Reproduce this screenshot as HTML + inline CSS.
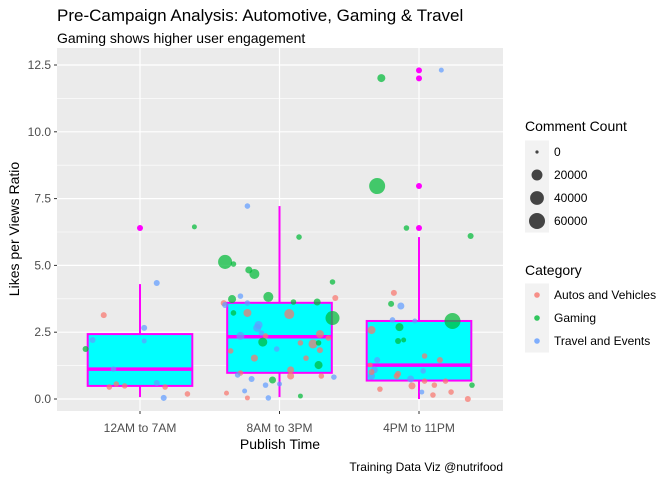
<!DOCTYPE html>
<html><head><meta charset="utf-8"><style>
body{margin:0;background:#fff;}
svg text{font-family:"Liberation Sans",sans-serif;}
</style></head><body>
<svg id="c" width="672" height="480" xmlns="http://www.w3.org/2000/svg">
<text x="57" y="21" font-size="17" fill="#000">Pre-Campaign Analysis: Automotive, Gaming &amp; Travel</text>
<text x="57" y="43" font-size="14" fill="#000">Gaming shows higher user engagement</text>
<rect x="57" y="48" width="446" height="363" fill="#EBEBEB"/>
<g id="grid"></g><g id="boxes"></g><g id="pts"></g><g id="axes"></g>
<text x="280" y="449" font-size="14" text-anchor="middle">Publish Time</text>
<text transform="translate(19,229) rotate(-90)" font-size="14" text-anchor="middle">Likes per Views Ratio</text>
<text x="503" y="471" font-size="12" text-anchor="end">Training Data Viz @nutrifood</text>
<g>
<text x="525" y="131" font-size="14">Comment Count</text>
<g id="sizeleg"></g></g>
<g>
<text x="525" y="275" font-size="14">Category</text>
<g id="catleg"></g></g>
</svg>
<script>
const categories=["12AM to 7AM","8AM to 3PM","4PM to 11PM"];
const yTicks=[0,2.5,5,7.5,10,12.5];
const yTickLabels=["0.0","2.5","5.0","7.5","10.0","12.5"];
const boxQ1=[0.49,0.98,0.69];
const boxMed=[1.12,2.33,1.27];
const boxQ3=[2.43,3.6,2.92];
const whiskLo=[0.07,0.07,0.0];
const whiskHi=[4.3,7.22,6.06];
const outGroup=[0,2,2,2,2];
const outVal=[6.4,12.3,12.0,7.97,6.4];
const ptGroup=[0,0,0,0,0,0,0,0,0,0,0,0,0,0,0,
1,1,1,1,1,1,1,1,1,1,1,1,1,1,1,1,1,1,1,1,1,1,1,1,1,1,1,1,1,1,1,1,1,1,1,1,1,1,1,1,1,1,1,1,1,1,1,1,1,1,1,1,
2,2,2,2,2,2,2,2,2,2,2,2,2,2,2,2,2,2,2,2,2,2,2,2,2,2,2,2,2,2,2,2,2,2,2,2];
const ptJitter=[.39,.12,-.26,.03,-.34,.03,-.39,-.19,.12,-.22,-.17,-.11,.18,.34,.17,
-.23,.14,-.39,-.33,-.22,-.18,.38,-.08,.40,-.34,-.28,-.40,-.39,-.23,.10,.27,-.33,-.23,.07,.38,-.15,-.16,-.13,-.28,-.10,.29,.35,-.12,.15,.24,.28,-.02,-.35,.29,-.18,.19,.28,.08,.08,-.28,-.30,.30,.39,-.20,-.05,-.10,0,-.38,-.25,-.23,-.08,.15,
.16,-.27,-.30,-.09,.37,-.18,-.20,-.13,-.19,-.03,.24,-.14,-.34,-.15,-.11,.04,.15,-.30,-.35,-.32,-.34,-.34,-.15,-.16,.03,-.06,-.05,.04,.11,.19,.38,-.28,.02,.10,.23,.35];
const ptRatio=[6.44,4.34,3.14,2.66,2.21,2.17,1.87,1.12,0.60,0.45,0.56,0.49,0.45,0.19,0.04,
7.22,6.06,5.13,5.05,4.83,4.68,4.38,3.82,3.78,3.74,3.85,3.59,3.52,3.59,3.63,3.63,3.22,3.22,3.18,3.03,2.77,2.66,2.47,2.36,2.36,2.43,2.28,2.13,2.10,2.06,2.10,1.87,1.80,1.83,1.53,1.53,1.27,1.09,0.86,0.97,0.90,0.86,0.82,0.75,0.71,0.52,0.56,0.22,0.30,0.04,0.04,0.11,
12.31,12.01,7.97,6.40,6.10,3.97,3.56,3.48,2.96,2.92,2.92,2.69,2.58,2.17,2.21,1.61,1.46,1.46,1.27,1.09,0.86,1.01,0.94,0.86,1.05,0.75,0.49,0.67,0.52,0.67,0.52,0.37,0.26,0.15,0.26,0.0];
const ptCat=["G","T","A","T","T","T","G","T","T","A","A","A","A","A","T",
"T","G","G","G","G","G","G","G","A","G","T","A","T","T","G","G","G","A","A","G","T","T","T","T","A","A","A","G","A","A","G","T","A","A","A","A","G","A","A","A","T","A","T","T","G","T","T","A","T","A","T","G",
"T","G","G","G","G","A","G","T","T","T","G","G","A","G","G","A","A","T","A","T","T","A","A","A","T","T","A","A","A","A","G","A","T","A","A","A"];
const ptComments=[400,1700,1700,1700,1700,400,1700,1000,1700,1000,1000,1000,1000,1000,1700,
1000,1000,42000,1000,3750,15000,1000,15000,1700,6700,1000,1700,1700,1000,1000,3750,1000,6700,15000,42000,6700,6700,1000,6700,1000,6700,1000,10400,1000,10400,1000,1000,1000,1700,3750,1000,6700,3750,3750,1000,1000,1000,1000,1700,3750,1000,400,400,400,400,1000,400,
400,6700,60000,1000,1700,1700,1700,3750,1000,400,60000,6700,6700,1700,400,1000,1700,1700,400,3750,3750,1700,1700,1700,1000,3750,3750,1000,1000,1000,1000,1000,400,1000,1000,1700];
const catNames={A:"Autos and Vehicles",G:"Gaming",T:"Travel and Events"};
const catColors={A:"#F8766D",G:"#00BA38",T:"#619CFF"};
const sizeBreaks=[0,20000,40000,60000];
const sizeLabels=["0","20000","40000","60000"];

const NS="http://www.w3.org/2000/svg";
const X0=140,XS=139.5,Y0=399,YS=26.72;
const xS=g=>X0+g*XS, yS=v=>Y0-v*YS;
const rS=c=>Math.max(1.5,2+6*Math.sqrt(c/60000));
function mk(tag,at,parent){const e=document.createElementNS(NS,tag);for(const k in at)e.setAttribute(k,at[k]);parent.appendChild(e);return e;}
const grid=document.getElementById('grid');
for(let i=0;i<yTicks.length;i++){
  const mv=yTicks[i]+1.25;
  if(mv<13.2){const m=mk('line',{x1:57,x2:503,y1:yS(mv),y2:yS(mv),stroke:'#fff','stroke-width':0.6},grid);
  
  }
  const l=mk('line',{x1:57,x2:503,y1:yS(yTicks[i]),y2:yS(yTicks[i]),stroke:'#fff','stroke-width':1.2},grid);
  
  
}
const axes=document.getElementById('axes');
categories.forEach((c,g)=>{
  const l=mk('line',{x1:xS(g),x2:xS(g),y1:48,y2:411,stroke:'#fff','stroke-width':1.2},grid);
  
  
  mk('line',{x1:xS(g),x2:xS(g),y1:411,y2:414,stroke:'#333'},axes);
  const t=mk('text',{x:xS(g),y:432,'font-size':12,'text-anchor':'middle',fill:'#4D4D4D'},axes);t.textContent=c;
  
  
});
yTicks.forEach((v,i)=>{
  mk('line',{x1:54,x2:57,y1:yS(v),y2:yS(v),stroke:'#333'},axes);
  const t=mk('text',{x:51,y:yS(v)+4,'font-size':12,'text-anchor':'end',fill:'#4D4D4D'},axes);t.textContent=yTickLabels[i];
  
  
});
const boxes=document.getElementById('boxes');
const hw=0.375*XS;
categories.forEach((c,g)=>{
  const x=xS(g);
  const gg=mk('g',{},boxes);
  
  
  mk('line',{x1:x,x2:x,y1:yS(whiskHi[g]),y2:yS(boxQ3[g]),stroke:'#FF00FF','stroke-width':2},gg);
  mk('line',{x1:x,x2:x,y1:yS(whiskLo[g]),y2:yS(boxQ1[g]),stroke:'#FF00FF','stroke-width':2},gg);
  mk('rect',{x:x-hw,y:yS(boxQ3[g]),width:2*hw,height:yS(boxQ1[g])-yS(boxQ3[g]),fill:'#00FFFF',stroke:'#FF00FF','stroke-width':2},gg);
  mk('line',{x1:x-hw,x2:x+hw,y1:yS(boxMed[g]),y2:yS(boxMed[g]),stroke:'#FF00FF','stroke-width':3.5},gg);
});
outGroup.forEach((g,i)=>{
  const o=mk('circle',{cx:xS(g),cy:yS(outVal[i]),r:3,fill:'#FF00FF'},boxes);
  
  
});
const pts=document.getElementById('pts');
ptGroup.forEach((g,i)=>{
  const p=mk('circle',{cx:xS(g+ptJitter[i]),cy:yS(ptRatio[i]),r:rS(ptComments[i]),fill:catColors[ptCat[i]],'fill-opacity':0.72},pts);
  
  
});
const sl=document.getElementById('sizeleg');
sizeBreaks.forEach((b,i)=>{
  const y=152+i*23;
  mk('rect',{x:525,y:y-11.5,width:24,height:23,fill:'#F2F2F2'},sl);
  const c=mk('circle',{cx:537,cy:y,r:b===0?1.6:rS(b),fill:'#000','fill-opacity':0.72},sl);
  
  
  const t=mk('text',{x:554,y:y+4,'font-size':12},sl);t.textContent=sizeLabels[i];
  
  
});
const cl=document.getElementById('catleg');
["A","G","T"].forEach((k,i)=>{
  const y=295+i*23;
  mk('rect',{x:525,y:y-11.5,width:24,height:23,fill:'#F2F2F2'},cl);
  const c=mk('circle',{cx:537,cy:y,r:2.8,fill:catColors[k],'fill-opacity':0.8},cl);
  
  
  const t=mk('text',{x:554,y:y+4,'font-size':12},cl);t.textContent=catNames[k];
  
  
});
</script>
</body></html>
